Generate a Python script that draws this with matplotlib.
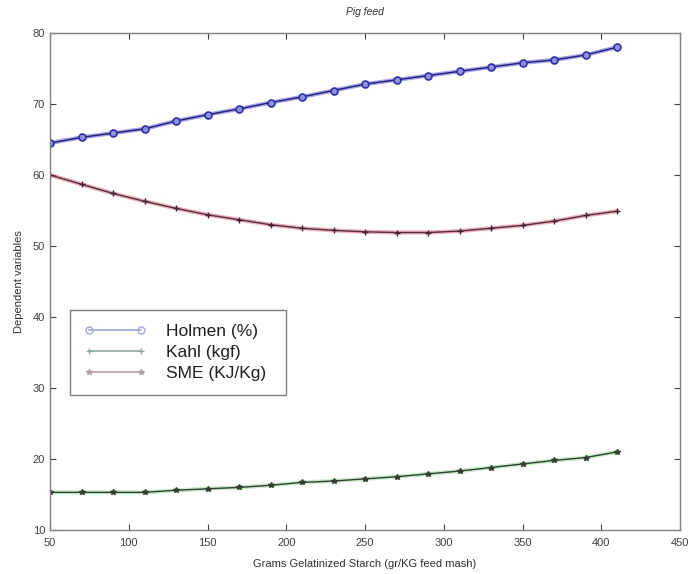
import numpy as np
import matplotlib
matplotlib.use('Agg')
import matplotlib.pyplot as plt
from matplotlib.lines import Line2D

plt.rcParams['font.family'] = ['Liberation Sans', 'DejaVu Sans']

# starch levels (gr/KG feed mash)
starch = [50, 70, 90, 110, 130, 150, 170, 190, 210, 230,
          250, 270, 290, 310, 330, 350, 370, 390, 410]

holmen = [64.5, 65.3, 65.9, 66.5, 67.6, 68.5, 69.3, 70.2, 71.0, 71.9,
          72.8, 73.4, 74.0, 74.6, 75.2, 75.8, 76.2, 76.9, 78.0]
kahl = [60.0, 58.7, 57.4, 56.3, 55.3, 54.4, 53.7, 53.0, 52.5, 52.2,
        52.0, 51.9, 51.9, 52.1, 52.5, 52.9, 53.5, 54.3, 54.9]
sme = [15.3, 15.3, 15.3, 15.3, 15.6, 15.8, 16.0, 16.3, 16.7, 16.9,
       17.2, 17.5, 17.9, 18.3, 18.8, 19.3, 19.8, 20.2, 21.0]

labels = ['Holmen (%)', 'Kahl (kgf)', 'SME (KJ/Kg)']

fig = plt.figure(figsize=(6.93, 5.74), dpi=100)
ax = fig.add_axes([50/693, 44/574, 630/693, 497/574])

# soft coloured halo under each dark trace
ax.plot(starch, holmen, color='#5858e0', lw=3.0, alpha=0.55)
ax.plot(starch, holmen, color='#202070', lw=1.0, marker='o', ms=5,
        mfc='#9090e0', mec='#3030a0', mew=1.2)
ax.plot(starch, kahl, color='#e07080', lw=3.0, alpha=0.55)
ax.plot(starch, kahl, color='#503040', lw=1.0, marker='+', ms=5, mew=1.0,
        mec='#402030')
ax.plot(starch, sme, color='#90d890', lw=3.0, alpha=0.5)
ax.plot(starch, sme, color='#304030', lw=1.0, marker='*', ms=4,
        mfc='#304030', mec='#304030')

ax.set_xlim(50, 450)
ax.set_ylim(10, 80)
ax.set_xticks(np.arange(50, 451, 50))
ax.set_yticks(np.arange(10, 81, 10))
ax.tick_params(direction='in', length=4, top=True, right=True,
               labelsize=8, colors='#404040', width=0.8)
ax.tick_params(axis='x', pad=6)
for s in ax.spines.values():
    s.set_color('#808080')
    s.set_linewidth(1.0)

ax.set_title('Pig feed', fontsize=7.5, style='italic', color='#303030', pad=13)
ax.set_xlabel('Grams Gelatinized Starch (gr/KG feed mash)', fontsize=8,
              color='#303030', labelpad=8)
ax.set_ylabel('Dependent variables', fontsize=8, color='#303030', labelpad=6)

handles = [
    Line2D([], [], color='#a0a8d8', lw=1.2, marker='o', ms=5,
           mfc='none', mec='#a0a8d8'),
    Line2D([], [], color='#90a8a8', lw=1.2, marker='+', ms=5, mec='#90a8a8'),
    Line2D([], [], color='#b0a0a8', lw=1.2, marker='*', ms=4,
           mfc='#b0a0a8', mec='#b0a0a8'),
]
leg = ax.legend(handles, labels, loc='lower left',
                bbox_to_anchor=(0.032, 0.272, 0.343, 0.173), mode='expand',
                borderaxespad=0, fontsize=12.5, numpoints=2,
                handlelength=3.6, handletextpad=1.1, labelspacing=0.33,
                borderpad=0.8, fancybox=False, framealpha=1,
                edgecolor='#808080')
leg.get_frame().set_linewidth(1.0)
for t in leg.get_texts():
    t.set_color('#202020')

fig.savefig('out.png', dpi=100)
